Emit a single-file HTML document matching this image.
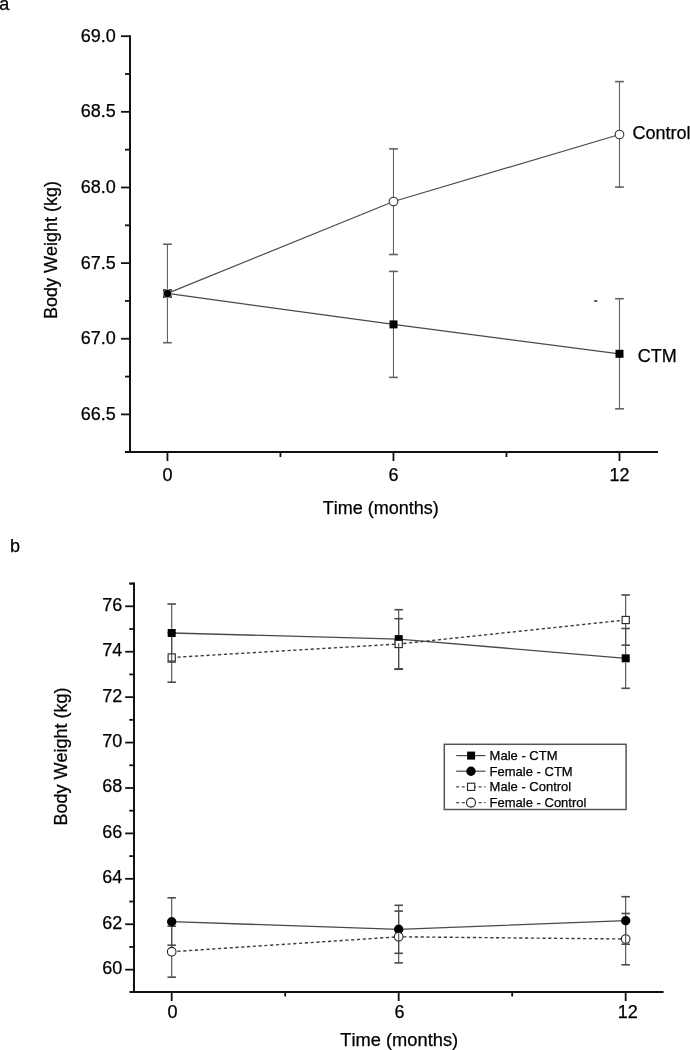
<!DOCTYPE html>
<html><head><meta charset="utf-8"><style>
html,body{margin:0;padding:0;background:#fff;}
body{width:690px;height:1050px;overflow:hidden;}
svg{display:block;will-change:transform;}
text{font-family:"Liberation Sans", sans-serif;fill:#000;stroke:#000;stroke-width:0.25px;font-kerning:none;}
</style></head><body>
<svg width="690" height="1050" viewBox="0 0 690 1050">
<rect width="690" height="1050" fill="#fff"/>
<text x="-0.8" y="9.5" font-size="18">a</text>
<line x1="130" y1="35.3" x2="130" y2="453" stroke="#111" stroke-width="2"/>
<line x1="125" y1="452" x2="658" y2="452" stroke="#111" stroke-width="2"/>
<line x1="121" y1="36.2" x2="130" y2="36.2" stroke="#111" stroke-width="1.8"/>
<text x="115.8" y="41.7" font-size="18" text-anchor="end">69.0</text>
<line x1="121" y1="111.84" x2="130" y2="111.84" stroke="#111" stroke-width="1.8"/>
<text x="115.8" y="117.34" font-size="18" text-anchor="end">68.5</text>
<line x1="121" y1="187.48" x2="130" y2="187.48" stroke="#111" stroke-width="1.8"/>
<text x="115.8" y="192.98" font-size="18" text-anchor="end">68.0</text>
<line x1="121" y1="263.12" x2="130" y2="263.12" stroke="#111" stroke-width="1.8"/>
<text x="115.8" y="268.62" font-size="18" text-anchor="end">67.5</text>
<line x1="121" y1="338.76" x2="130" y2="338.76" stroke="#111" stroke-width="1.8"/>
<text x="115.8" y="344.26" font-size="18" text-anchor="end">67.0</text>
<line x1="121" y1="414.4" x2="130" y2="414.4" stroke="#111" stroke-width="1.8"/>
<text x="115.8" y="419.9" font-size="18" text-anchor="end">66.5</text>
<line x1="125" y1="74.02" x2="130" y2="74.02" stroke="#111" stroke-width="1.8"/>
<line x1="125" y1="149.66" x2="130" y2="149.66" stroke="#111" stroke-width="1.8"/>
<line x1="125" y1="225.3" x2="130" y2="225.3" stroke="#111" stroke-width="1.8"/>
<line x1="125" y1="300.94" x2="130" y2="300.94" stroke="#111" stroke-width="1.8"/>
<line x1="125" y1="376.58" x2="130" y2="376.58" stroke="#111" stroke-width="1.8"/>
<line x1="167.45" y1="452" x2="167.45" y2="461" stroke="#111" stroke-width="1.8"/>
<text x="167.45" y="480.5" font-size="18" text-anchor="middle">0</text>
<line x1="393.47" y1="452" x2="393.47" y2="461" stroke="#111" stroke-width="1.8"/>
<text x="393.47" y="480.5" font-size="18" text-anchor="middle">6</text>
<line x1="619.49" y1="452" x2="619.49" y2="461" stroke="#111" stroke-width="1.8"/>
<text x="619.49" y="480.5" font-size="18" text-anchor="middle">12</text>
<line x1="280.46" y1="452" x2="280.46" y2="457" stroke="#111" stroke-width="1.8"/>
<line x1="506.48" y1="452" x2="506.48" y2="457" stroke="#111" stroke-width="1.8"/>
<text x="380.8" y="514.4" font-size="18" text-anchor="middle">Time (months)</text>
<text transform="translate(56.7,250) rotate(-90)" font-size="18" text-anchor="middle">Body Weight (kg)</text>
<line x1="393.47" y1="148.9" x2="393.47" y2="254.5" stroke="#626262" stroke-width="1.1"/>
<line x1="389.07" y1="148.9" x2="397.87" y2="148.9" stroke="#626262" stroke-width="1.6"/>
<line x1="389.07" y1="254.5" x2="397.87" y2="254.5" stroke="#626262" stroke-width="1.6"/>
<line x1="619.49" y1="81.6" x2="619.49" y2="187.1" stroke="#626262" stroke-width="1.1"/>
<line x1="615.09" y1="81.6" x2="623.89" y2="81.6" stroke="#626262" stroke-width="1.6"/>
<line x1="615.09" y1="187.1" x2="623.89" y2="187.1" stroke="#626262" stroke-width="1.6"/>
<line x1="393.47" y1="271.4" x2="393.47" y2="377.4" stroke="#626262" stroke-width="1.1"/>
<line x1="389.07" y1="271.4" x2="397.87" y2="271.4" stroke="#626262" stroke-width="1.6"/>
<line x1="389.07" y1="377.4" x2="397.87" y2="377.4" stroke="#626262" stroke-width="1.6"/>
<line x1="619.49" y1="298.7" x2="619.49" y2="408.8" stroke="#626262" stroke-width="1.1"/>
<line x1="615.09" y1="298.7" x2="623.89" y2="298.7" stroke="#626262" stroke-width="1.6"/>
<line x1="615.09" y1="408.8" x2="623.89" y2="408.8" stroke="#626262" stroke-width="1.6"/>
<line x1="167.45" y1="244.2" x2="167.45" y2="342.7" stroke="#626262" stroke-width="1.1"/>
<line x1="163.05" y1="244.2" x2="171.85" y2="244.2" stroke="#626262" stroke-width="1.6"/>
<line x1="163.05" y1="342.7" x2="171.85" y2="342.7" stroke="#626262" stroke-width="1.6"/>
<polyline points="167.4,293.4 393.5,201.5 619.5,134.5" fill="none" stroke="#4a4a4a" stroke-width="1.2"/>
<polyline points="167.4,293.4 393.5,324.4 619.5,353.8" fill="none" stroke="#4a4a4a" stroke-width="1.2"/>
<circle cx="393.5" cy="201.5" r="4.3" fill="#fff" stroke="#333" stroke-width="1.1"/>
<circle cx="619.5" cy="134.5" r="4.3" fill="#fff" stroke="#333" stroke-width="1.1"/>
<rect x="389.5" y="320.4" width="8" height="8" fill="#000"/>
<rect x="615.5" y="349.8" width="8" height="8" fill="#000"/>
<rect x="163.10" y="289.15" width="8.7" height="8.7" fill="#1a1a1a"/>
<circle cx="167.45" cy="293.5" r="4.15" fill="none" stroke="#a8a8a8" stroke-width="1.0"/>
<circle cx="167.45" cy="293.5" r="3.4" fill="#000"/>
<text x="632.4" y="138.6" font-size="18">Control</text>
<text x="637.8" y="361.8" font-size="18">CTM</text>
<ellipse cx="595.7" cy="301" rx="2" ry="0.9" fill="#555"/>
<text x="10" y="552.3" font-size="18">b</text>
<line x1="134" y1="582.59" x2="134" y2="993" stroke="#111" stroke-width="2"/>
<line x1="129.5" y1="992" x2="663.6" y2="992" stroke="#111" stroke-width="2"/>
<line x1="125.2" y1="969.66" x2="134" y2="969.66" stroke="#111" stroke-width="1.8"/>
<text x="122.3" y="974.06" font-size="18" text-anchor="end">60</text>
<line x1="125.2" y1="924.24" x2="134" y2="924.24" stroke="#111" stroke-width="1.8"/>
<text x="122.3" y="928.64" font-size="18" text-anchor="end">62</text>
<line x1="125.2" y1="878.82" x2="134" y2="878.82" stroke="#111" stroke-width="1.8"/>
<text x="122.3" y="883.22" font-size="18" text-anchor="end">64</text>
<line x1="125.2" y1="833.4" x2="134" y2="833.4" stroke="#111" stroke-width="1.8"/>
<text x="122.3" y="837.8" font-size="18" text-anchor="end">66</text>
<line x1="125.2" y1="787.98" x2="134" y2="787.98" stroke="#111" stroke-width="1.8"/>
<text x="122.3" y="792.38" font-size="18" text-anchor="end">68</text>
<line x1="125.2" y1="742.56" x2="134" y2="742.56" stroke="#111" stroke-width="1.8"/>
<text x="122.3" y="746.96" font-size="18" text-anchor="end">70</text>
<line x1="125.2" y1="697.14" x2="134" y2="697.14" stroke="#111" stroke-width="1.8"/>
<text x="122.3" y="701.54" font-size="18" text-anchor="end">72</text>
<line x1="125.2" y1="651.72" x2="134" y2="651.72" stroke="#111" stroke-width="1.8"/>
<text x="122.3" y="656.12" font-size="18" text-anchor="end">74</text>
<line x1="125.2" y1="606.3" x2="134" y2="606.3" stroke="#111" stroke-width="1.8"/>
<text x="122.3" y="610.7" font-size="18" text-anchor="end">76</text>
<line x1="129.3" y1="946.95" x2="134" y2="946.95" stroke="#111" stroke-width="1.8"/>
<line x1="129.3" y1="901.53" x2="134" y2="901.53" stroke="#111" stroke-width="1.8"/>
<line x1="129.3" y1="856.11" x2="134" y2="856.11" stroke="#111" stroke-width="1.8"/>
<line x1="129.3" y1="810.69" x2="134" y2="810.69" stroke="#111" stroke-width="1.8"/>
<line x1="129.3" y1="765.27" x2="134" y2="765.27" stroke="#111" stroke-width="1.8"/>
<line x1="129.3" y1="719.85" x2="134" y2="719.85" stroke="#111" stroke-width="1.8"/>
<line x1="129.3" y1="674.43" x2="134" y2="674.43" stroke="#111" stroke-width="1.8"/>
<line x1="129.3" y1="629.01" x2="134" y2="629.01" stroke="#111" stroke-width="1.8"/>
<line x1="129.3" y1="583.59" x2="134" y2="583.59" stroke="#111" stroke-width="1.8"/>
<line x1="129.3" y1="583.59" x2="134" y2="583.59" stroke="#111" stroke-width="1.8"/>
<line x1="171.7" y1="992" x2="171.7" y2="1001" stroke="#111" stroke-width="1.8"/>
<text x="172.5" y="1018" font-size="18" text-anchor="middle">0</text>
<line x1="398.68" y1="992" x2="398.68" y2="1001" stroke="#111" stroke-width="1.8"/>
<text x="399.48" y="1018" font-size="18" text-anchor="middle">6</text>
<line x1="625.66" y1="992" x2="625.66" y2="1001" stroke="#111" stroke-width="1.8"/>
<text x="627.66" y="1018" font-size="18" text-anchor="middle">12</text>
<line x1="285.19" y1="992" x2="285.19" y2="996.5" stroke="#111" stroke-width="1.8"/>
<line x1="512.17" y1="992" x2="512.17" y2="996.5" stroke="#111" stroke-width="1.8"/>
<text x="399.25" y="1045.5" font-size="18.3" text-anchor="middle">Time (months)</text>
<text transform="translate(67.4,756.5) rotate(-90)" font-size="18" text-anchor="middle">Body Weight (kg)</text>
<polyline points="171.7,633.0 398.7,639.1 625.7,658.3" fill="none" stroke="#4a4a4a" stroke-width="1.3"/>
<polyline points="171.7,657.5 398.7,644.0 625.7,620.0" fill="none" stroke="#3c3c3c" stroke-width="1.4" stroke-dasharray="3.2 2.6"/>
<polyline points="171.7,921.7 398.7,929.3 625.7,920.7" fill="none" stroke="#4a4a4a" stroke-width="1.3"/>
<polyline points="171.7,951.7 398.7,936.8 625.7,939.0" fill="none" stroke="#3c3c3c" stroke-width="1.4" stroke-dasharray="3.2 2.6"/>
<line x1="171.7" y1="632.8" x2="171.7" y2="682.2" stroke="#4a4a4a" stroke-width="1.1"/>
<line x1="167.45" y1="632.8" x2="175.95" y2="632.8" stroke="#4a4a4a" stroke-width="1.6"/>
<line x1="167.45" y1="682.2" x2="175.95" y2="682.2" stroke="#4a4a4a" stroke-width="1.6"/>
<line x1="398.68" y1="618.7" x2="398.68" y2="669.3" stroke="#4a4a4a" stroke-width="1.1"/>
<line x1="394.43" y1="618.7" x2="402.93" y2="618.7" stroke="#4a4a4a" stroke-width="1.6"/>
<line x1="394.43" y1="669.3" x2="402.93" y2="669.3" stroke="#4a4a4a" stroke-width="1.6"/>
<line x1="625.66" y1="595" x2="625.66" y2="645.2" stroke="#4a4a4a" stroke-width="1.1"/>
<line x1="621.41" y1="595" x2="629.91" y2="595" stroke="#4a4a4a" stroke-width="1.6"/>
<line x1="621.41" y1="645.2" x2="629.91" y2="645.2" stroke="#4a4a4a" stroke-width="1.6"/>
<line x1="171.7" y1="926.2" x2="171.7" y2="977.2" stroke="#4a4a4a" stroke-width="1.1"/>
<line x1="167.45" y1="926.2" x2="175.95" y2="926.2" stroke="#4a4a4a" stroke-width="1.6"/>
<line x1="167.45" y1="977.2" x2="175.95" y2="977.2" stroke="#4a4a4a" stroke-width="1.6"/>
<line x1="398.68" y1="911.1" x2="398.68" y2="962.9" stroke="#4a4a4a" stroke-width="1.1"/>
<line x1="394.43" y1="911.1" x2="402.93" y2="911.1" stroke="#4a4a4a" stroke-width="1.6"/>
<line x1="394.43" y1="962.9" x2="402.93" y2="962.9" stroke="#4a4a4a" stroke-width="1.6"/>
<line x1="625.66" y1="913.5" x2="625.66" y2="964.8" stroke="#4a4a4a" stroke-width="1.1"/>
<line x1="621.41" y1="913.5" x2="629.91" y2="913.5" stroke="#4a4a4a" stroke-width="1.6"/>
<line x1="621.41" y1="964.8" x2="629.91" y2="964.8" stroke="#4a4a4a" stroke-width="1.6"/>
<rect x="167.7" y="629.0" width="8" height="8" fill="#000"/>
<rect x="394.7" y="635.1" width="8" height="8" fill="#000"/>
<rect x="621.7" y="654.3" width="8" height="8" fill="#000"/>
<circle cx="171.7" cy="921.7" r="4.7" fill="#000"/>
<circle cx="398.7" cy="929.3" r="4.7" fill="#000"/>
<circle cx="625.7" cy="920.7" r="4.7" fill="#000"/>
<rect x="168.1" y="653.9" width="7.2" height="7.2" fill="#fff" stroke="#222" stroke-width="1.1"/>
<rect x="395.1" y="640.4" width="7.2" height="7.2" fill="#fff" stroke="#222" stroke-width="1.1"/>
<rect x="622.1" y="616.4" width="7.2" height="7.2" fill="#fff" stroke="#222" stroke-width="1.1"/>
<circle cx="171.7" cy="951.7" r="4.3" fill="#fff" stroke="#222" stroke-width="1.1"/>
<circle cx="398.7" cy="936.8" r="4.3" fill="#fff" stroke="#222" stroke-width="1.1"/>
<circle cx="625.7" cy="939.0" r="4.3" fill="#fff" stroke="#222" stroke-width="1.1"/>
<line x1="171.7" y1="604" x2="171.7" y2="628.8" stroke="#4a4a4a" stroke-width="1.1"/>
<line x1="171.7" y1="637.2" x2="171.7" y2="662" stroke="#4a4a4a" stroke-width="1.1"/>
<line x1="167.45" y1="604" x2="175.95" y2="604" stroke="#4a4a4a" stroke-width="1.6"/>
<line x1="167.45" y1="662" x2="175.95" y2="662" stroke="#4a4a4a" stroke-width="1.6"/>
<line x1="398.68" y1="609.7" x2="398.68" y2="634.9" stroke="#4a4a4a" stroke-width="1.1"/>
<line x1="398.68" y1="643.3" x2="398.68" y2="668.8" stroke="#4a4a4a" stroke-width="1.1"/>
<line x1="394.43" y1="609.7" x2="402.93" y2="609.7" stroke="#4a4a4a" stroke-width="1.6"/>
<line x1="394.43" y1="668.8" x2="402.93" y2="668.8" stroke="#4a4a4a" stroke-width="1.6"/>
<line x1="625.66" y1="628.5" x2="625.66" y2="654.1" stroke="#4a4a4a" stroke-width="1.1"/>
<line x1="625.66" y1="662.5" x2="625.66" y2="688.3" stroke="#4a4a4a" stroke-width="1.1"/>
<line x1="621.41" y1="628.5" x2="629.91" y2="628.5" stroke="#4a4a4a" stroke-width="1.6"/>
<line x1="621.41" y1="688.3" x2="629.91" y2="688.3" stroke="#4a4a4a" stroke-width="1.6"/>
<line x1="171.7" y1="897.8" x2="171.7" y2="917.5" stroke="#4a4a4a" stroke-width="1.1"/>
<line x1="171.7" y1="925.9" x2="171.7" y2="945.2" stroke="#4a4a4a" stroke-width="1.1"/>
<line x1="167.45" y1="897.8" x2="175.95" y2="897.8" stroke="#4a4a4a" stroke-width="1.6"/>
<line x1="167.45" y1="945.2" x2="175.95" y2="945.2" stroke="#4a4a4a" stroke-width="1.6"/>
<line x1="398.68" y1="905.3" x2="398.68" y2="925.1" stroke="#4a4a4a" stroke-width="1.1"/>
<line x1="398.68" y1="933.5" x2="398.68" y2="953.3" stroke="#4a4a4a" stroke-width="1.1"/>
<line x1="394.43" y1="905.3" x2="402.93" y2="905.3" stroke="#4a4a4a" stroke-width="1.6"/>
<line x1="394.43" y1="953.3" x2="402.93" y2="953.3" stroke="#4a4a4a" stroke-width="1.6"/>
<line x1="625.66" y1="896.7" x2="625.66" y2="916.5" stroke="#4a4a4a" stroke-width="1.1"/>
<line x1="625.66" y1="924.9" x2="625.66" y2="944.2" stroke="#4a4a4a" stroke-width="1.1"/>
<line x1="621.41" y1="896.7" x2="629.91" y2="896.7" stroke="#4a4a4a" stroke-width="1.6"/>
<line x1="621.41" y1="944.2" x2="629.91" y2="944.2" stroke="#4a4a4a" stroke-width="1.6"/>
<rect x="444.3" y="744.3" width="181.8" height="65.2" fill="none" stroke="#555" stroke-width="1.5"/>
<line x1="456.2" y1="755.6" x2="485.5" y2="755.6" stroke="#4a4a4a" stroke-width="1.2"/>
<rect x="467.1" y="751.6" width="8" height="8" fill="#000"/>
<text x="489.6" y="759.7" font-size="13">Male - CTM</text>
<line x1="456.2" y1="771.2" x2="485.5" y2="771.2" stroke="#4a4a4a" stroke-width="1.2"/>
<circle cx="471" cy="771.2" r="4.7" fill="#000"/>
<text x="489.6" y="776" font-size="13">Female - CTM</text>
<line x1="456.2" y1="786.8" x2="485.5" y2="786.8" stroke="#4a4a4a" stroke-width="1.2" stroke-dasharray="3 2.6"/>
<rect x="467.5" y="783.2" width="7.2" height="7.2" fill="#fff" stroke="#222" stroke-width="1.1"/>
<text x="489.6" y="791.3" font-size="13">Male - Control</text>
<line x1="456.2" y1="802.6" x2="485.5" y2="802.6" stroke="#4a4a4a" stroke-width="1.2" stroke-dasharray="3 2.6"/>
<circle cx="471" cy="802.6" r="4.5" fill="#fff" stroke="#222" stroke-width="1.1"/>
<text x="489.6" y="806.8" font-size="13">Female - Control</text>
</svg>
</body></html>
